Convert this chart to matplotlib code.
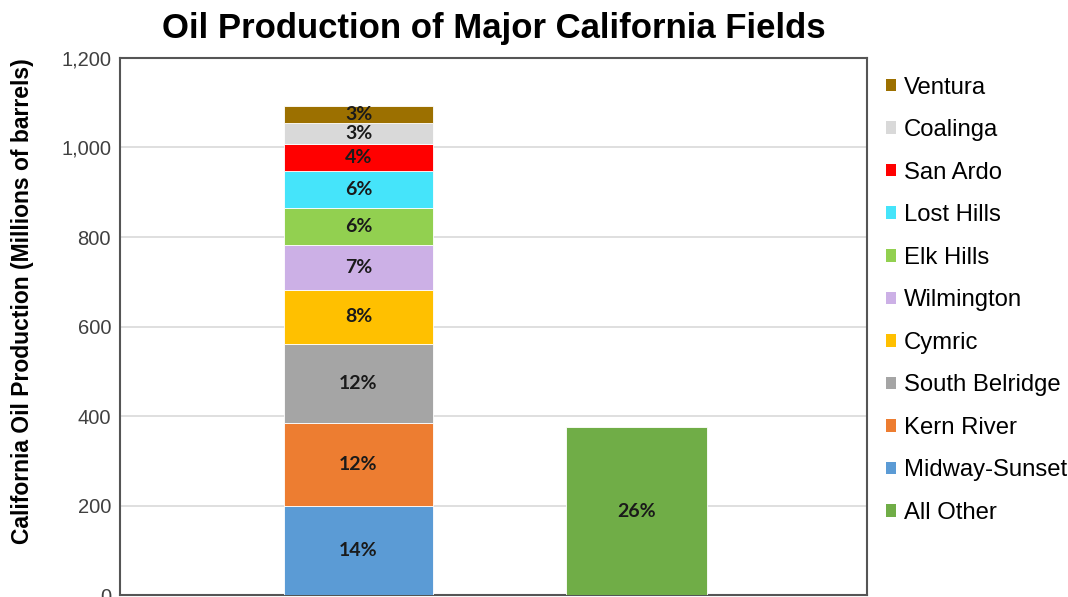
import matplotlib.pyplot as plt
from matplotlib.patches import Patch

# oil production, millions of barrels
fields = ["Midway-Sunset", "Kern River", "South Belridge", "Cymric", "Wilmington",
          "Elk Hills", "Lost Hills", "San Ardo", "Coalinga", "Ventura"]
field_values = [200, 184, 178, 119, 101, 82, 83, 61, 47, 38]
field_pcts = ["14%", "12%", "12%", "8%", "7%", "6%", "6%", "4%", "3%", "3%"]
field_colors = ["#5B9BD5", "#ED7D31", "#A5A5A5", "#FFC000", "#CCB0E6",
                "#92D050", "#45E4FA", "#FF0000", "#D9D9D9", "#9C7000"]

other_label = "All Other"
other_value = 376
other_pct = "26%"
other_color = "#70AD47"

yticks = [0, 200, 400, 600, 800, 1000, 1200]
ytick_labels = ["0", "200", "400", "600", "800", "1,000", "1,200"]

plt.rcParams['font.family'] = ['Liberation Sans', 'DejaVu Sans']

fig = plt.figure(figsize=(10.68, 5.97), dpi=100)
ax = fig.add_axes([0.1124, 0.003, 0.6994, 0.9])

lbl_font = ["Lato", "DejaVu Sans"]

bottom = 0
for name, val, pct, col in zip(fields, field_values, field_pcts, field_colors):
    ax.bar(0, val, bottom=bottom, width=0.536, color=col, edgecolor="white",
           linewidth=0.6, zorder=3)
    ax.text(0, bottom + val / 2, pct, ha="center", va="center", fontsize=14,
            fontweight="bold", family=lbl_font, color="#1a1a1a", zorder=4)
    bottom += val

ax.bar(1, other_value, width=0.507, color=other_color, edgecolor="white",
       linewidth=0.6, zorder=3)
ax.text(1, other_value / 2, other_pct, ha="center", va="center", fontsize=14,
        fontweight="bold", family=lbl_font, color="#1a1a1a", zorder=4)

ax.set_xlim(-0.858, 1.830)
ax.set_ylim(0, 1200)
ax.set_xticks([])
ax.set_yticks(yticks)
ax.set_yticklabels(ytick_labels, fontsize=14.5, color="#404040")
ax.tick_params(axis="y", length=0, pad=6.5)
ax.grid(axis="y", color="#D9D9D9", linewidth=1.2, zorder=0)
for s in ax.spines.values():
    s.set_color("#555555")
    s.set_linewidth(1.5)

ax.set_ylabel("California Oil Production (Millions of barrels)", fontsize=16.5,
              fontweight="bold")
ax.yaxis.set_label_coords(-0.115, 0.547)
ax.set_title("Oil Production of Major California Fields", fontsize=25,
             fontweight="bold", pad=14)

handles = [Patch(facecolor=c, label=n) for n, c in zip(fields, field_colors)]
handles.append(Patch(facecolor=other_color, label=other_label))
handles = handles[::-1]
handles = handles[1:] + handles[:1]
ax.legend(handles=handles, loc="upper left", bbox_to_anchor=(1.012, 0.983),
          frameon=False, fontsize=17.2, labelspacing=0.86, handlelength=0.43,
          handleheight=0.43, handletextpad=0.33, borderaxespad=0)

fig.savefig("out.png", dpi=100)
